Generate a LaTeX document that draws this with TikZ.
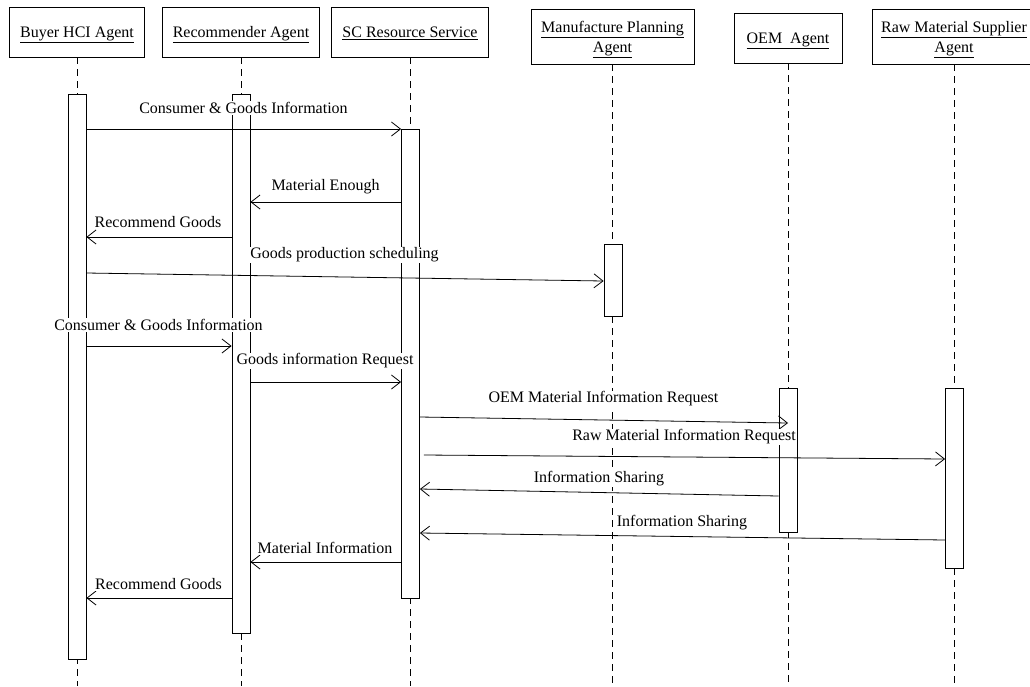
\documentclass[tikz,border=0pt]{standalone}
\usepackage{fontspec}
\setmainfont{Liberation Serif}
\usetikzlibrary{arrows.meta}

\tikzset{
  head/.style={draw, line width=0.8pt, align=center, inner sep=0pt, text depth=0pt, font=\fontsize{16}{20}\selectfont},
  act/.style={draw, fill=white, line width=0.8pt, minimum width=18pt, inner sep=0pt},
  life/.style={dash pattern=on 7pt off 5pt, line width=0.8pt},
  msg/.style={-{Straight Barb[length=9pt,width=14pt]}, line width=0.8pt},
  lbl/.style={fill=white, inner sep=1pt, font=\fontsize{16}{20}\selectfont}
}

\begin{document}
\begin{tikzpicture}[x=1pt,y=-1pt]
\useasboundingbox (0,0) rectangle (1030,686);
% agents
\node[head, minimum width=135pt, minimum height=50pt] (buyer) at (77,32) {\underline{Buyer HCI Agent}};
\node[head, minimum width=157pt, minimum height=50pt] (rec) at (241,32) {\underline{Recommender Agent}};
\node[head, minimum width=157pt, minimum height=50pt] (sc) at (410,32) {\underline{SC Resource Service}};
\node[head, minimum width=163pt, minimum height=55pt] (mp) at (612.5,36.5) {\underline{Manufacture Planning}\\\underline{Agent}};
\node[head, minimum width=108pt, minimum height=50pt] (oem) at (788,38) {\underline{OEM\ \ Agent}};
\node[head, minimum width=164pt, minimum height=55pt] (raw) at (954,36.5) {\underline{Raw Material Supplier}\\\underline{Agent}};
% lifelines
\foreach \n in {buyer,rec,sc,mp,oem,raw}
  \draw[life] (\n.south) -- (\n.south |- 0,686);
% activations
\node[act, minimum height=565pt] (buyerAct) at (77,376.5) {};
\node[act, minimum height=539pt] (recAct) at (241,363.5) {};
\node[act, minimum height=469pt] (scAct) at (410.5,363.5) {};
\node[act, minimum height=72pt] (mpAct) at (613,280) {};
\node[act, minimum height=144pt] (oemAct) at (788,460) {};
\node[act, minimum height=180pt] (rawAct) at (954.5,478) {};
% messages
\draw[msg] (buyerAct.east |- 0,129) -- (scAct.west |- 0,129);
\draw[msg] (scAct.west |- 0,202) -- (recAct.east |- 0,202);
\draw[msg] (recAct.west |- 0,237) -- (buyerAct.east |- 0,237);
\draw[msg] (buyerAct.east |- 0,273) -- (mpAct.west |- 0,281);
\draw[msg] (buyerAct.east |- 0,346) -- (recAct.west |- 0,346);
\draw[msg] (recAct.east |- 0,382) -- (scAct.west |- 0,382);
\draw[msg] (scAct.east |- 0,417) -- (oemAct.center |- 0,423);
\draw[msg] ([xshift=4pt]scAct.east |- 0,455) -- (rawAct.west |- 0,459);
\draw[msg] (oemAct.west |- 0,496) -- (scAct.east |- 0,489);
\draw[msg] (rawAct.west |- 0,540) -- (scAct.east |- 0,533);
\draw[msg] (scAct.west |- 0,562) -- (recAct.east |- 0,562);
\draw[msg] (recAct.west |- 0,598) -- (buyerAct.east |- 0,598);
% labels
\node[lbl] (l1) at (243.5,108) {Consumer \& Goods Information};
\node[lbl] (l2) at (325.5,187) {Material Enough};
\node[lbl] (l3) at (158,222) {Recommend Goods};
\node[lbl] (l4) at (344.5,255) {Goods production scheduling};
\node[lbl] (l5) at (158.5,325) {Consumer \& Goods Information};
\node[lbl] (l6) at (325,361) {Goods information Request};
\node[lbl] (l7) at (603.5,399) {OEM Material Information Request};
\node[lbl] (l8) at (684,437) {Raw Material Information Request};
\node[lbl] (l9) at (599,479) {Information Sharing};
\node[lbl] (l10) at (682,523) {Information Sharing};
\node[lbl] (l11) at (325,548) {Material Information};
\node[lbl] (l12) at (158.5,584) {Recommend Goods};
\end{tikzpicture}
\end{document}
